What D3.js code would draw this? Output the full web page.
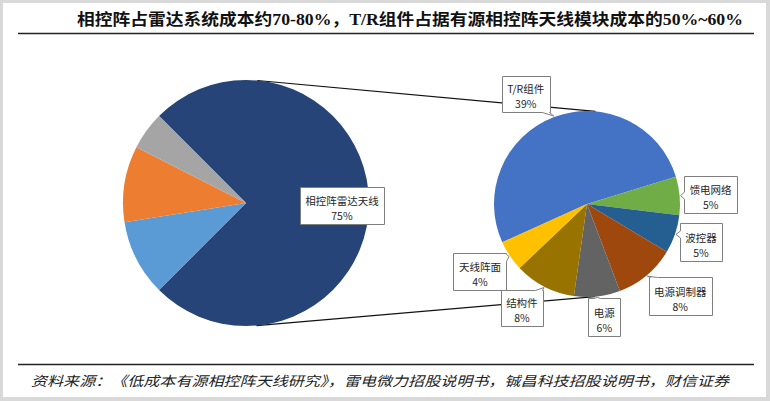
<!DOCTYPE html>
<html><head><meta charset="utf-8">
<script src="https://cdn.jsdelivr.net/npm/d3@7"></script>
<style>html,body{margin:0;padding:0;background:#fff;}svg{display:block;}</style>
</head><body>
<script>
// ---- data ----
const titleText = "相控阵占雷达系统成本约70-80%，T/R组件占据有源相控阵天线模块成本的50%~60%";
const sourceText = "资料来源：《低成本有源相控阵天线研究》，雷电微力招股说明书，铖昌科技招股说明书，财信证券";
const leftCategories = ["相控阵雷达天线", "", "", ""];
const leftValues = [75, 10, 10, 5];
const leftColors = ["#264478", "#5B9BD5", "#ED7D31", "#A5A5A5"];
const rightCategories = ["T/R组件", "馈电网络", "波控器", "电源调制器", "电源", "结构件", "天线阵面"];
const rightValues = [39, 5, 5, 8, 6, 8, 4];
const rightColors = ["#4472C4", "#70AD47", "#255E91", "#9E480E", "#636363", "#997300", "#FFC000"];

// ---- layout ----
const W = 770, H = 401;
const svg = d3.select("body").append("svg").attr("width", W).attr("height", H);
svg.append("rect").attr("width", W).attr("height", H).attr("fill", "#d9d9d9");
svg.append("rect").attr("x", 3).attr("y", 3).attr("width", 763).attr("height", 394).attr("fill", "#fff");

const FONT = "'Noto Sans CJK SC', 'Noto Sans', sans-serif";

// title
svg.append("text").attr("x", 77).attr("y", 25)
  .attr("font-family", "'Liberation Serif', 'Noto Sans CJK SC', serif")
  .attr("font-weight", "bold").attr("font-size", 16).attr("fill", "#111")
  .attr("textLength", 666).attr("lengthAdjust", "spacingAndGlyphs")
  .text(titleText);
svg.append("line").attr("x1", 18).attr("x2", 754).attr("y1", 33.5).attr("y2", 33.5)
  .attr("stroke", "#222").attr("stroke-width", 1.5);

// footer
svg.append("line").attr("x1", 18).attr("x2", 754).attr("y1", 364.5).attr("y2", 364.5)
  .attr("stroke", "#222").attr("stroke-width", 1.5);
svg.append("text").attr("x", 31).attr("y", 386)
  .attr("font-family", FONT).attr("font-style", "italic").attr("font-size", 13.5).attr("fill", "#222")
  .attr("textLength", 698).attr("lengthAdjust", "spacingAndGlyphs")
  .text(sourceText);

// pies
const L = {cx: 246, cy: 203, r: 123};
const R = {cx: 587, cy: 204, r: 93};
const deg = Math.PI / 180;

// tangent connector lines
(function () {
  const d = Math.hypot(R.cx - L.cx, R.cy - L.cy);
  const base = Math.atan2(R.cy - L.cy, R.cx - L.cx);
  const phi = Math.acos((L.r - R.r) / d);
  [1, -1].forEach(s => {
    const a = base - s * phi;
    svg.append("line")
      .attr("x1", L.cx + L.r * Math.cos(a)).attr("y1", L.cy + L.r * Math.sin(a))
      .attr("x2", R.cx + R.r * Math.cos(a)).attr("y2", R.cy + R.r * Math.sin(a))
      .attr("stroke", "#111").attr("stroke-width", 1.2);
  });
})();

const leftPie = d3.pie().sort(null).startAngle(-45 * deg).endAngle(315 * deg)(leftValues);
const rightStart = -114.3 * deg;
const rightPie = d3.pie().sort(null).startAngle(rightStart).endAngle(rightStart + 2 * Math.PI)(rightValues);

const gL = svg.append("g").attr("transform", `translate(${L.cx},${L.cy})`);
gL.selectAll("path").data(leftPie).join("path")
  .attr("d", d3.arc().innerRadius(0).outerRadius(L.r))
  .attr("fill", (d, i) => leftColors[i]);

const gR = svg.append("g").attr("transform", `translate(${R.cx},${R.cy})`);
gR.selectAll("path").data(rightPie).join("path")
  .attr("d", d3.arc().innerRadius(0).outerRadius(R.r))
  .attr("fill", (d, i) => rightColors[i]);

const pct = v => Math.round(v) + "%";

// left label (inside)
(function () {
  const d = leftPie[0];
  const mid = (d.startAngle + d.endAngle) / 2;
  const rr = L.r * 0.78;
  const cx = L.cx + rr * Math.sin(mid), cy = L.cy - rr * Math.cos(mid) + 2.5;
  drawBox(cx, cy, [leftCategories[0], pct(leftValues[0])], null, 37);
})();

// right labels with callouts: offset from anchor, side of notch, box height
const calloutLayout = [
  {dx: -28, dy: -22.5, side: "bottom", h: 36},
  {dx: 30, dy: -1, side: "left", h: 37},
  {dx: 25, dy: 8, side: "left", h: 38},
  {dx: 33, dy: 20, side: "top", h: 38},
  {dx: 7, dy: 20, side: "top", h: 38},
  {dx: -22, dy: 20, side: "top", h: 36},
  {dx: -29, dy: 15, side: "right", h: 37}
];
rightPie.forEach((d, i) => {
  const mid = (d.startAngle + d.endAngle) / 2;
  const ax = R.cx + (R.r + 1) * Math.sin(mid), ay = R.cy - (R.r + 1) * Math.cos(mid);
  const lay = calloutLayout[i];
  drawBox(ax + lay.dx, ay + lay.dy, [rightCategories[i], pct(rightValues[i])], {x: ax, y: ay, side: lay.side}, lay.h);
});

function drawBox(cx, cy, lines, tip, h) {
  const g = svg.append("g");
  const t1 = g.append("text").attr("font-family", FONT).attr("font-size", 10.5).attr("fill", "#262626")
    .attr("text-anchor", "middle").attr("x", cx).attr("y", cy - 0.5).text(lines[0]);
  const t2 = g.append("text").attr("font-family", FONT).attr("font-size", 10.5).attr("fill", "#262626")
    .attr("text-anchor", "middle").attr("x", cx).attr("y", cy + 14.5).text(lines[1]);
  const w = Math.max(t1.node().getComputedTextLength(), t2.node().getComputedTextLength()) + 11;
  const x0 = Math.round(cx - w / 2) + 0.5, x1 = Math.round(cx + w / 2) + 0.5;
  const y0 = Math.round(cy - h / 2) + 0.5, y1 = Math.round(cy + h / 2) + 0.5;
  let p;
  if (!tip) {
    p = `M${x0},${y0}H${x1}V${y1}H${x0}Z`;
  } else {
    const bw = 7;
    const clampX = v => Math.max(x0 + 1, Math.min(x1 - bw - 1, v));
    const clampY = v => Math.max(y0 + 1, Math.min(y1 - bw - 1, v));
    if (tip.side === "top") {
      const b = clampX(tip.x - bw / 2);
      p = `M${x0},${y0}H${b}L${tip.x},${tip.y}L${b + bw},${y0}H${x1}V${y1}H${x0}Z`;
    } else if (tip.side === "bottom") {
      const b = clampX(tip.x - bw / 2);
      p = `M${x0},${y0}H${x1}V${y1}H${b + bw}L${tip.x},${tip.y}L${b},${y1}H${x0}Z`;
    } else if (tip.side === "left") {
      const b = clampY(tip.y - bw / 2);
      p = `M${x0},${y0}H${x1}V${y1}H${x0}V${b + bw}L${tip.x},${tip.y}L${x0},${b}Z`;
    } else {
      const b = clampY(tip.y - bw / 2);
      p = `M${x0},${y0}H${x1}V${b}L${tip.x},${tip.y}L${x1},${b + bw}V${y1}H${x0}Z`;
    }
  }
  g.insert("path", "text").attr("d", p).attr("fill", "#fff").attr("stroke", "#7f7f7f").attr("stroke-width", 1);
}
</script>
</body></html>
